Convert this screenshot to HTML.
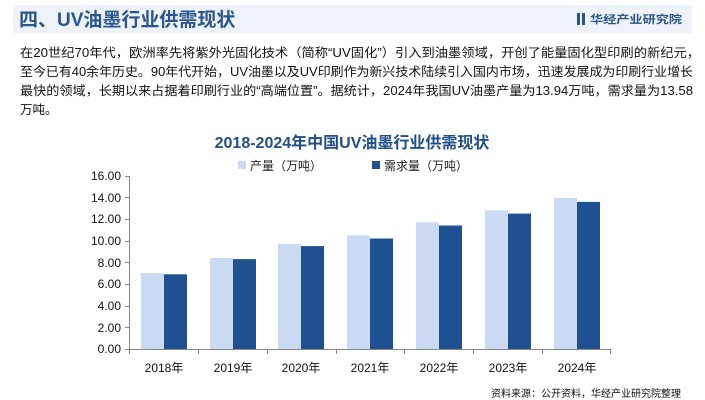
<!DOCTYPE html>
<html><head><meta charset="utf-8"><style>
body{margin:0;width:705px;height:400px;background:#fff;overflow:hidden}
</style></head><body>
<svg width="705" height="400" style="position:absolute;left:0;top:0" font-family="Liberation Sans, Noto Sans CJK SC, sans-serif">
<rect x="13" y="5" width="679" height="28" fill="#eef2f9"/>
<text x="19" y="26" font-size="19" font-weight="bold" fill="#2a5590">四、UV油墨行业供需现状</text>
<rect x="577" y="13" width="3" height="12" fill="#2a5590"/>
<rect x="582" y="13" width="3" height="12" fill="#2a5590"/>
<text x="590" y="23" font-size="11" font-weight="bold" fill="#2a5590" textLength="92" lengthAdjust="spacingAndGlyphs">华经产业研究院</text>
<g font-size="12.5" fill="#111">
<text x="20" y="57" textLength="680" lengthAdjust="spacingAndGlyphs">在20世纪70年代，欧洲率先将紫外光固化技术（简称“UV固化”）引入到油墨领域，开创了能量固化型印刷的新纪元，</text>
<text x="20" y="76" textLength="673" lengthAdjust="spacingAndGlyphs">至今已有40余年历史。90年代开始，UV油墨以及UV印刷作为新兴技术陆续引入国内市场，迅速发展成为印刷行业增长</text>
<text x="20" y="95" textLength="673" lengthAdjust="spacingAndGlyphs">最快的领域，长期以来占据着印刷行业的“高端位置”。据统计，2024年我国UV油墨产量为13.94万吨，需求量为13.58</text>
<text x="20" y="114">万吨。</text>
</g>
<text x="352" y="148" font-size="16" font-weight="bold" fill="#1f4e8c" text-anchor="middle">2018-2024年中国UV油墨行业供需现状</text>
<rect x="238" y="161" width="8" height="8" fill="#c9daf2"/>
<text x="250" y="170" font-size="12" fill="#222">产量（万吨）</text>
<rect x="372" y="161" width="8" height="8" fill="#1f5192"/>
<text x="384" y="170" font-size="12" fill="#222">需求量（万吨）</text>
<g font-size="12" fill="#111" text-anchor="end">
<text x="121" y="353">0.00</text>
<text x="121" y="332">2.00</text>
<text x="121" y="310">4.00</text>
<text x="121" y="288">6.00</text>
<text x="121" y="267">8.00</text>
<text x="121" y="245">10.00</text>
<text x="121" y="223">12.00</text>
<text x="121" y="202">14.00</text>
<text x="121" y="180">16.00</text>
</g>
<g>
<rect x="141" y="273.2" width="23" height="75.8" fill="#c9daf2"/><rect x="164" y="274.3" width="23" height="74.7" fill="#1f5192"/>
<rect x="210" y="258.0" width="23" height="91.0" fill="#c9daf2"/><rect x="233" y="259.1" width="23" height="89.9" fill="#1f5192"/>
<rect x="278" y="243.9" width="23" height="105.1" fill="#c9daf2"/><rect x="301" y="246.1" width="23" height="102.9" fill="#1f5192"/>
<rect x="347" y="235.3" width="23" height="113.7" fill="#c9daf2"/><rect x="370" y="238.5" width="23" height="110.5" fill="#1f5192"/>
<rect x="416" y="222.3" width="23" height="126.7" fill="#c9daf2"/><rect x="439" y="225.5" width="23" height="123.5" fill="#1f5192"/>
<rect x="485" y="210.4" width="23" height="138.6" fill="#c9daf2"/><rect x="508" y="213.6" width="23" height="135.4" fill="#1f5192"/>
<rect x="554" y="198.0" width="23" height="151.0" fill="#c9daf2"/><rect x="577" y="201.9" width="23" height="147.1" fill="#1f5192"/>
</g>
<g stroke="#888" stroke-width="1">
<line x1="129.5" y1="176" x2="129.5" y2="349"/>
<line x1="129" y1="349.5" x2="611" y2="349.5"/>
<line x1="125" y1="349.5" x2="129" y2="349.5"/>
<line x1="125" y1="327.5" x2="129" y2="327.5"/>
<line x1="125" y1="306.5" x2="129" y2="306.5"/>
<line x1="125" y1="284.5" x2="129" y2="284.5"/>
<line x1="125" y1="262.5" x2="129" y2="262.5"/>
<line x1="125" y1="241.5" x2="129" y2="241.5"/>
<line x1="125" y1="219.5" x2="129" y2="219.5"/>
<line x1="125" y1="197.5" x2="129" y2="197.5"/>
<line x1="125" y1="176.5" x2="129" y2="176.5"/>
<line x1="129.5" y1="349" x2="129.5" y2="354"/>
<line x1="198.5" y1="349" x2="198.5" y2="354"/>
<line x1="267.5" y1="349" x2="267.5" y2="354"/>
<line x1="336.5" y1="349" x2="336.5" y2="354"/>
<line x1="404.5" y1="349" x2="404.5" y2="354"/>
<line x1="473.5" y1="349" x2="473.5" y2="354"/>
<line x1="542.5" y1="349" x2="542.5" y2="354"/>
<line x1="610.5" y1="349" x2="610.5" y2="354"/>
</g>
<g font-size="12" fill="#111" text-anchor="middle">
<text x="164" y="372">2018年</text>
<text x="233" y="372">2019年</text>
<text x="301" y="372">2020年</text>
<text x="370" y="372">2021年</text>
<text x="439" y="372">2022年</text>
<text x="508" y="372">2023年</text>
<text x="577" y="372">2024年</text>
</g>
<text x="681" y="397" font-size="10" fill="#111" text-anchor="end">资料来源：公开资料，华经产业研究院整理</text>
</svg>
</body></html>
